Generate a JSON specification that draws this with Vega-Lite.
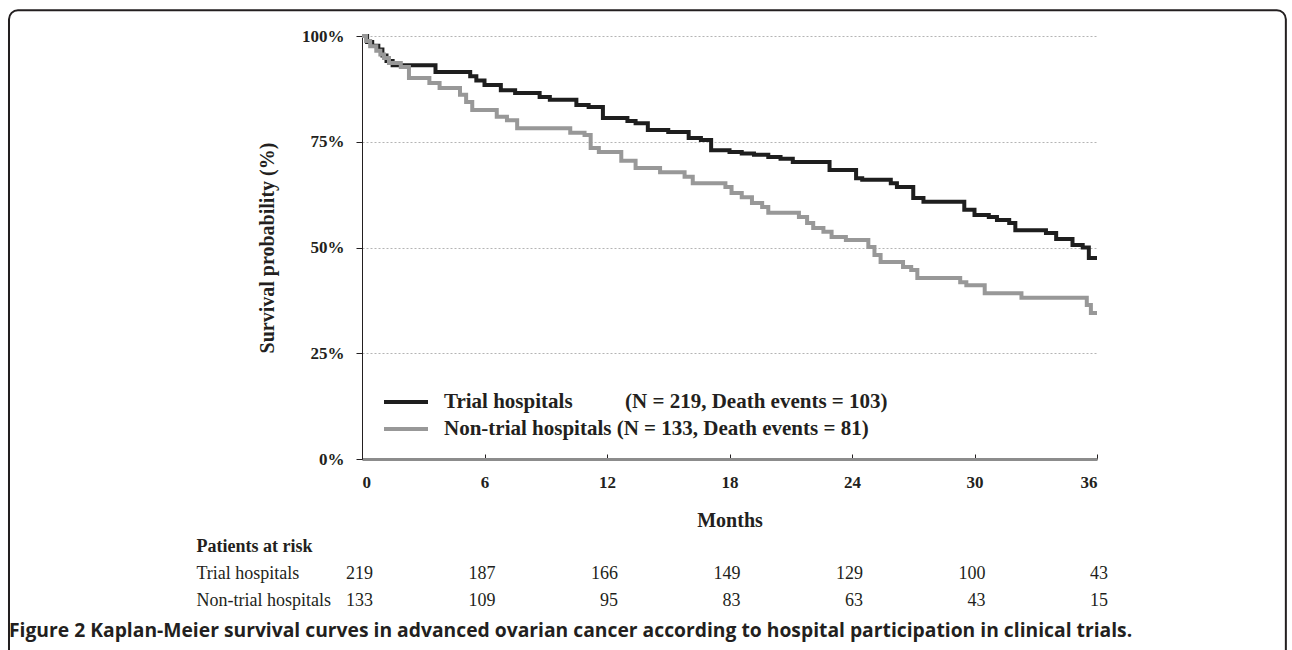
{
  "$schema": "https://vega.github.io/schema/vega-lite/v6.json",
  "padding": {"left": 7, "top": 9, "right": 0, "bottom": 0},
  "background": "white",
  "config": {"view": {"stroke": null}, "font": "Liberation Serif"},
  "spacing": 74,
  "bounds": "flush",
  "resolve": {"legend": {"color": "independent"}},
  "datasets": {
    "km": [
      {"group": "Trial hospitals", "month": 0, "surv": 100},
      {"group": "Trial hospitals", "month": 0.25, "surv": 98.6},
      {"group": "Trial hospitals", "month": 0.5, "surv": 97.7},
      {"group": "Trial hospitals", "month": 0.8, "surv": 96.8},
      {"group": "Trial hospitals", "month": 1.0, "surv": 95.4},
      {"group": "Trial hospitals", "month": 1.2, "surv": 94.1},
      {"group": "Trial hospitals", "month": 1.5, "surv": 93.1},
      {"group": "Trial hospitals", "month": 3.6, "surv": 91.5},
      {"group": "Trial hospitals", "month": 5.3, "surv": 90.5},
      {"group": "Trial hospitals", "month": 5.6, "surv": 89.5},
      {"group": "Trial hospitals", "month": 6.0, "surv": 88.4},
      {"group": "Trial hospitals", "month": 6.8, "surv": 87.2},
      {"group": "Trial hospitals", "month": 7.5, "surv": 86.5},
      {"group": "Trial hospitals", "month": 8.7, "surv": 85.6},
      {"group": "Trial hospitals", "month": 9.2, "surv": 84.9},
      {"group": "Trial hospitals", "month": 10.5, "surv": 83.7},
      {"group": "Trial hospitals", "month": 11.1, "surv": 83.2},
      {"group": "Trial hospitals", "month": 11.8, "surv": 80.6},
      {"group": "Trial hospitals", "month": 13.0, "surv": 79.9},
      {"group": "Trial hospitals", "month": 13.4, "surv": 79.4},
      {"group": "Trial hospitals", "month": 14.0, "surv": 77.8},
      {"group": "Trial hospitals", "month": 15.0, "surv": 77.3},
      {"group": "Trial hospitals", "month": 16.0, "surv": 75.9},
      {"group": "Trial hospitals", "month": 16.6, "surv": 75.4},
      {"group": "Trial hospitals", "month": 17.1, "surv": 73.0},
      {"group": "Trial hospitals", "month": 18.0, "surv": 72.6},
      {"group": "Trial hospitals", "month": 18.6, "surv": 72.2},
      {"group": "Trial hospitals", "month": 19.2, "surv": 71.9},
      {"group": "Trial hospitals", "month": 19.9, "surv": 71.4},
      {"group": "Trial hospitals", "month": 20.5, "surv": 71.0},
      {"group": "Trial hospitals", "month": 21.1, "surv": 70.2},
      {"group": "Trial hospitals", "month": 22.9, "surv": 68.3},
      {"group": "Trial hospitals", "month": 24.2, "surv": 66.4},
      {"group": "Trial hospitals", "month": 24.5, "surv": 66.0},
      {"group": "Trial hospitals", "month": 25.9, "surv": 65.2},
      {"group": "Trial hospitals", "month": 26.2, "surv": 64.3},
      {"group": "Trial hospitals", "month": 27.0, "surv": 61.7},
      {"group": "Trial hospitals", "month": 27.5, "surv": 60.8},
      {"group": "Trial hospitals", "month": 29.5, "surv": 58.9},
      {"group": "Trial hospitals", "month": 30.0, "surv": 57.7},
      {"group": "Trial hospitals", "month": 30.7, "surv": 57.2},
      {"group": "Trial hospitals", "month": 31.1, "surv": 56.5},
      {"group": "Trial hospitals", "month": 31.7, "surv": 55.8},
      {"group": "Trial hospitals", "month": 32.0, "surv": 54.1},
      {"group": "Trial hospitals", "month": 33.5, "surv": 53.4},
      {"group": "Trial hospitals", "month": 34.0, "surv": 52.0},
      {"group": "Trial hospitals", "month": 34.8, "surv": 50.6},
      {"group": "Trial hospitals", "month": 35.3, "surv": 50.0},
      {"group": "Trial hospitals", "month": 35.6, "surv": 47.5},
      {"group": "Trial hospitals", "month": 36.0, "surv": 47.5},
      {"group": "Non-trial hospitals", "month": 0, "surv": 100},
      {"group": "Non-trial hospitals", "month": 0.2, "surv": 98.8},
      {"group": "Non-trial hospitals", "month": 0.4, "surv": 97.6},
      {"group": "Non-trial hospitals", "month": 0.7, "surv": 96.5},
      {"group": "Non-trial hospitals", "month": 0.9, "surv": 95.6},
      {"group": "Non-trial hospitals", "month": 1.08, "surv": 94.8},
      {"group": "Non-trial hospitals", "month": 1.32, "surv": 93.6},
      {"group": "Non-trial hospitals", "month": 1.9, "surv": 92.7},
      {"group": "Non-trial hospitals", "month": 2.3, "surv": 90.1},
      {"group": "Non-trial hospitals", "month": 3.3, "surv": 88.9},
      {"group": "Non-trial hospitals", "month": 3.8, "surv": 87.7},
      {"group": "Non-trial hospitals", "month": 4.8, "surv": 86.1},
      {"group": "Non-trial hospitals", "month": 5.1, "surv": 84.4},
      {"group": "Non-trial hospitals", "month": 5.4, "surv": 82.5},
      {"group": "Non-trial hospitals", "month": 6.6, "surv": 80.9},
      {"group": "Non-trial hospitals", "month": 7.1, "surv": 80.1},
      {"group": "Non-trial hospitals", "month": 7.6, "surv": 78.2},
      {"group": "Non-trial hospitals", "month": 10.2, "surv": 77.1},
      {"group": "Non-trial hospitals", "month": 10.9, "surv": 76.6},
      {"group": "Non-trial hospitals", "month": 11.2, "surv": 73.5},
      {"group": "Non-trial hospitals", "month": 11.6, "surv": 72.6},
      {"group": "Non-trial hospitals", "month": 12.7, "surv": 70.5},
      {"group": "Non-trial hospitals", "month": 13.4, "surv": 68.8},
      {"group": "Non-trial hospitals", "month": 14.6, "surv": 67.8},
      {"group": "Non-trial hospitals", "month": 15.8, "surv": 66.7},
      {"group": "Non-trial hospitals", "month": 16.2, "surv": 65.2},
      {"group": "Non-trial hospitals", "month": 17.8, "surv": 64.3},
      {"group": "Non-trial hospitals", "month": 18.1, "surv": 62.9},
      {"group": "Non-trial hospitals", "month": 18.6, "surv": 61.9},
      {"group": "Non-trial hospitals", "month": 19.1, "surv": 60.5},
      {"group": "Non-trial hospitals", "month": 19.6, "surv": 59.6},
      {"group": "Non-trial hospitals", "month": 19.9, "surv": 58.2},
      {"group": "Non-trial hospitals", "month": 21.4, "surv": 57.2},
      {"group": "Non-trial hospitals", "month": 21.8, "surv": 55.8},
      {"group": "Non-trial hospitals", "month": 22.1, "surv": 54.6},
      {"group": "Non-trial hospitals", "month": 22.6, "surv": 53.7},
      {"group": "Non-trial hospitals", "month": 23.0, "surv": 52.5},
      {"group": "Non-trial hospitals", "month": 23.7, "surv": 51.8},
      {"group": "Non-trial hospitals", "month": 24.8, "surv": 50.1},
      {"group": "Non-trial hospitals", "month": 25.1, "surv": 48.2},
      {"group": "Non-trial hospitals", "month": 25.4, "surv": 46.6},
      {"group": "Non-trial hospitals", "month": 26.5, "surv": 45.4},
      {"group": "Non-trial hospitals", "month": 26.9, "surv": 44.7},
      {"group": "Non-trial hospitals", "month": 27.2, "surv": 42.8},
      {"group": "Non-trial hospitals", "month": 29.3, "surv": 41.8},
      {"group": "Non-trial hospitals", "month": 29.6, "surv": 41.1},
      {"group": "Non-trial hospitals", "month": 30.5, "surv": 39.2},
      {"group": "Non-trial hospitals", "month": 32.3, "surv": 38.1},
      {"group": "Non-trial hospitals", "month": 35.5, "surv": 36.4},
      {"group": "Non-trial hospitals", "month": 35.7, "surv": 34.5},
      {"group": "Non-trial hospitals", "month": 36.0, "surv": 34.5}
    ],
    "risk": [
      {"group": "Trial hospitals", "month": 0, "n": 219},
      {"group": "Trial hospitals", "month": 6, "n": 187},
      {"group": "Trial hospitals", "month": 12, "n": 166},
      {"group": "Trial hospitals", "month": 18, "n": 149},
      {"group": "Trial hospitals", "month": 24, "n": 129},
      {"group": "Trial hospitals", "month": 30, "n": 100},
      {"group": "Trial hospitals", "month": 36, "n": 43},
      {"group": "Non-trial hospitals", "month": 0, "n": 133},
      {"group": "Non-trial hospitals", "month": 6, "n": 109},
      {"group": "Non-trial hospitals", "month": 12, "n": 95},
      {"group": "Non-trial hospitals", "month": 18, "n": 83},
      {"group": "Non-trial hospitals", "month": 24, "n": 63},
      {"group": "Non-trial hospitals", "month": 30, "n": 43},
      {"group": "Non-trial hospitals", "month": 36, "n": 15}
    ]
  },
  "vconcat": [
    {
      "width": 735,
      "height": 423,
      "layer": [
        {
          "data": {"values": [{}]},
          "mark": {"type": "rect", "fill": null, "stroke": "#231f20", "strokeWidth": 2, "cornerRadius": 9},
          "encoding": {
            "x": {"datum": -17.29, "type": "quantitative", "scale": {"domain": [0, 36]}},
            "x2": {"datum": 45.25},
            "y": {"datum": 106.1, "type": "quantitative", "scale": {"domain": [0, 100]}},
            "y2": {"datum": -50}
          }
        },
        {
          "data": {"name": "km"},
          "mark": {"type": "line", "interpolate": "step-after", "strokeWidth": 4},
          "encoding": {
            "x": {
              "field": "month", "type": "quantitative",
              "scale": {"domain": [0, 36], "nice": false},
              "axis": {
                "title": "Months", "values": [0, 6, 12, 18, 24, 30, 36], "format": "d", "grid": false,
                "domainColor": "#8c8c8c", "domainWidth": 3,
                "tickColor": "#231f20", "tickSize": -5, "tickWidth": 1,
                "labelFont": "Liberation Serif", "labelFontSize": 17, "labelFontWeight": "bold", "labelColor": "#231f20", "labelPadding": 20,
                "titleFont": "Liberation Serif", "titleFontSize": 20, "titleFontWeight": "bold", "titleColor": "#231f20", "titlePadding": 20
              }
            },
            "y": {
              "field": "surv", "type": "quantitative",
              "scale": {"domain": [0, 100], "nice": false},
              "axis": {
                "title": "Survival probability (%)", "values": [0, 25, 50, 75, 100], "labelExpr": "datum.value + '%'",
                "grid": true, "gridDash": [2, 2], "gridColor": "#b4b4b4", "gridWidth": 1,
                "domainColor": "#231f20", "domainWidth": 1,
                "tickColor": "#231f20", "tickSize": 6, "tickWidth": 1,
                "labelFont": "Liberation Serif", "labelFontSize": 17, "labelFontWeight": "bold", "labelColor": "#231f20", "labelPadding": 12,
                "titleFont": "Liberation Serif", "titleFontSize": 20, "titleFontWeight": "bold", "titleColor": "#231f20", "titlePadding": 24
              }
            },
            "color": {
              "field": "group", "type": "nominal",
              "scale": {"domain": ["Trial hospitals", "Non-trial hospitals"], "range": ["#1e1e1e", "#989898"]},
              "legend": {
                "title": null, "orient": "bottom-left", "offset": 20, "padding": 0,
                "symbolType": "M-1,0H3", "symbolSize": 484, "symbolStrokeWidth": 4,
                "labelFont": "Liberation Serif", "labelFontSize": 21, "labelFontWeight": "bold", "labelColor": "#231f20",
                "labelOffset": 36, "rowPadding": 4, "labelLimit": 800,
                "labelExpr": "datum.label === 'Trial hospitals' ? 'Trial hospitals\u00a0\u00a0\u00a0\u00a0\u00a0\u00a0\u00a0\u00a0\u00a0\u00a0(N = 219, Death events = 103)' : 'Non-trial hospitals\u00a0(N = 133, Death events = 81)'"
              }
            }
          }
        }
      ]
    },
    {
      "width": 735,
      "height": 81,
      "data": {"name": "risk"},
      "title": {
        "text": "Figure 2 Kaplan-Meier survival curves in advanced ovarian cancer according to hospital participation in clinical trials.",
        "orient": "bottom", "anchor": "start", "dx": -187, "offset": 8,
        "font": "Open Sans", "fontSize": 19.3, "fontWeight": "bold", "color": "#231f20"
      },
      "mark": {"type": "text", "align": "right", "dx": 11, "fontSize": 18, "font": "Liberation Serif", "color": "#231f20"},
      "encoding": {
        "x": {"field": "month", "type": "quantitative", "scale": {"domain": [0, 36], "nice": false}, "axis": null},
        "y": {
          "field": "group", "type": "nominal",
          "scale": {"domain": ["Patients at risk", "Trial hospitals", "Non-trial hospitals"]},
          "axis": {
            "title": null, "domain": false, "ticks": false,
            "labelAlign": "left", "labelPadding": 166, "labelLimit": 400,
            "labelFont": "Liberation Serif", "labelFontSize": 18, "labelColor": "#231f20",
            "labelFontWeight": {"condition": {"test": "datum.value === 'Patients at risk'", "value": "bold"}, "value": "normal"}
          }
        },
        "text": {"field": "n", "type": "quantitative"}
      }
    }
  ]
}
